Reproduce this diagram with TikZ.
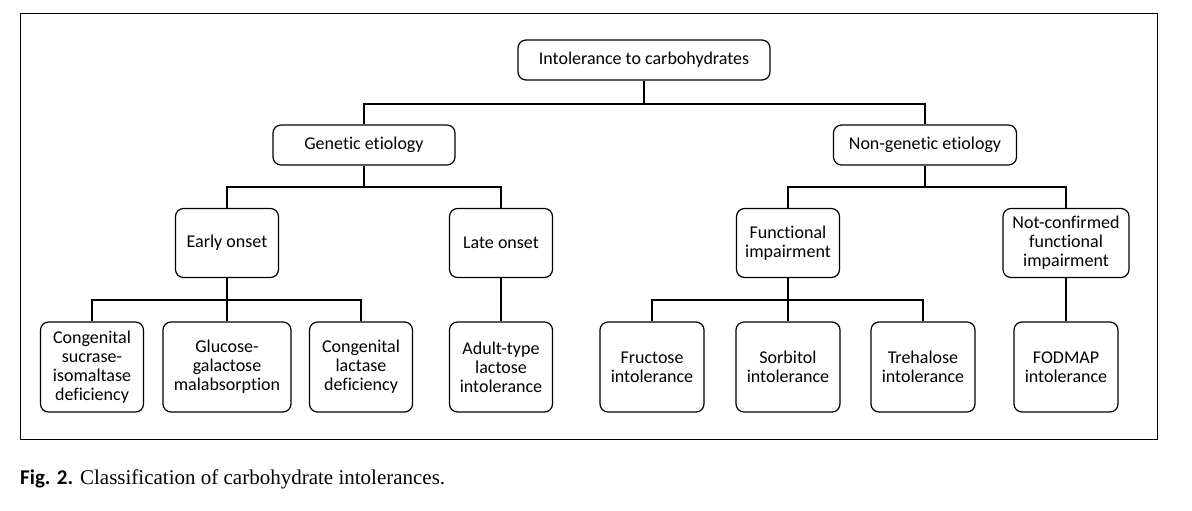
\documentclass[tikz,border=0pt]{standalone}
\usepackage{fontspec}
\setmainfont{Liberation Serif}
\newfontfamily\boxfont[Ligatures=NoCommon]{Carlito}
\begin{document}
\begin{tikzpicture}[x=1pt,y=-1pt,
  nbox/.style={draw, rounded corners=8pt, line width=1.2pt, align=center,
    font=\boxfont\fontsize{18}{19}\selectfont, inner sep=0pt},
  conn/.style={line width=1.6pt}]
\useasboundingbox (0,0) rectangle (1192,511);
\draw[line width=0.9pt] (20,13) rectangle (1157,439);
% nodes
\node[nbox, minimum width=252pt, minimum height=40pt] (root) at (644,60) {Intolerance to carbohydrates};
\node[nbox, minimum width=182pt, minimum height=40pt] (gen) at (364,145) {Genetic etiology};
\node[nbox, minimum width=183pt, minimum height=40pt] (ngen) at (925,145) {Non-genetic etiology};
\node[nbox, minimum width=103pt, minimum height=69pt] (early) at (227,243) {Early onset};
\node[nbox, minimum width=103pt, minimum height=69pt] (late) at (501,243) {Late onset};
\node[nbox, minimum width=103pt, minimum height=69pt] (func) at (788,243) {Functional\\impairment};
\node[nbox, minimum width=126pt, minimum height=69pt] (notc) at (1066,243) {Not-confirmed\\functional\\impairment};
\node[nbox, minimum width=103pt, minimum height=90pt] (csid) at (92,367) {Congenital\\sucrase-\\isomaltase\\deficiency};
\node[nbox, minimum width=128pt, minimum height=90pt] (gg) at (227,367) {Glucose-\\galactose\\malabsorption};
\node[nbox, minimum width=103pt, minimum height=90pt] (cld) at (361,367) {Congenital\\lactase\\deficiency};
\node[nbox, minimum width=103pt, minimum height=90pt] (adult) at (501,367) {Adult-type\\lactose\\intolerance};
\node[nbox, minimum width=104pt, minimum height=90pt] (fru) at (652,367) {Fructose\\intolerance};
\node[nbox, minimum width=104pt, minimum height=90pt] (sor) at (788,367) {Sorbitol\\intolerance};
\node[nbox, minimum width=104pt, minimum height=90pt] (tre) at (923,367) {Trehalose\\intolerance};
\node[nbox, minimum width=104pt, minimum height=90pt] (fod) at (1066,367) {FODMAP\\intolerance};
% junctions
\coordinate (j0) at (644,104);
\coordinate (j1) at (364,187);
\coordinate (j2) at (925,187);
\coordinate (j3) at (227,300);
\coordinate (j4) at (788,300);
% connectors
\draw[conn] (root.south) -- (j0);
\draw[conn] (gen.north) |- (j0) -| (ngen.north);
\draw[conn] (gen.south) -- (j1);
\draw[conn] (early.north) |- (j1) -| (late.north);
\draw[conn] (ngen.south) -- (j2);
\draw[conn] (func.north) |- (j2) -| (notc.north);
\draw[conn] (early.south) -- (gg.north);
\draw[conn] (csid.north) |- (j3) -| (cld.north);
\draw[conn] (late.south) -- (adult.north);
\draw[conn] (func.south) -- (sor.north);
\draw[conn] (fru.north) |- (j4) -| (tre.north);
\draw[conn] (notc.south) -- (fod.north);
% caption
\node[anchor=base west, inner sep=0pt, font=\fontsize{21}{23}\selectfont] (cap) at (20,484)
  {{\boxfont\bfseries Fig. 2.} Classification of carbohydrate intolerances.};
\end{tikzpicture}
\end{document}
